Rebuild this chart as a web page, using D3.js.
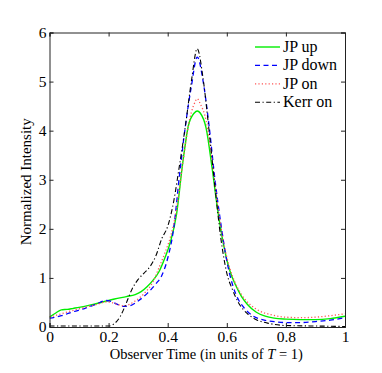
<!DOCTYPE html>
<html>
<head>
<meta charset="utf-8">
<script src="https://cdn.jsdelivr.net/npm/d3@7"></script>
<style>
  body { margin: 0; background: #fff; }
  svg text { font-family: "Liberation Serif", "Times New Roman", Times, "DejaVu Serif", serif; }
</style>
</head>
<body>
<div id="chart"></div>
<script>
// data
var jpUpT = [0, 0.02, 0.04, 0.06, 0.08, 0.10, 0.14, 0.18, 0.22, 0.26, 0.29, 0.31, 0.33, 0.35, 0.37, 0.39, 0.41, 0.43, 0.45, 0.47, 0.49, 0.50, 0.51, 0.53, 0.55, 0.57, 0.59, 0.61, 0.63, 0.65, 0.67, 0.70, 0.73, 0.76, 0.80, 0.85, 0.90, 0.95, 1.0]
var jpUpV = [0.20, 0.28, 0.35, 0.36, 0.38, 0.40, 0.45, 0.51, 0.57, 0.62, 0.66, 0.72, 0.82, 0.95, 1.12, 1.40, 1.75, 2.3, 3.3, 4.1, 4.36, 4.40, 4.36, 4.05, 3.25, 2.35, 1.65, 1.15, 0.85, 0.62, 0.46, 0.30, 0.22, 0.18, 0.16, 0.15, 0.15, 0.17, 0.22]

var jpDownT = [0, 0.04, 0.08, 0.12, 0.16, 0.19, 0.21, 0.23, 0.25, 0.27, 0.30, 0.33, 0.36, 0.38, 0.40, 0.42, 0.44, 0.46, 0.48, 0.50, 0.52, 0.54, 0.56, 0.58, 0.60, 0.62, 0.64, 0.66, 0.69, 0.72, 0.76, 0.80, 0.85, 0.90, 0.95, 1.0]
var jpDownV = [0.18, 0.23, 0.31, 0.38, 0.47, 0.54, 0.52, 0.46, 0.42, 0.43, 0.53, 0.68, 0.88, 1.05, 1.4, 2.0, 3.1, 4.1, 4.9, 5.5, 5.0, 4.1, 3.0, 2.1, 1.35, 0.85, 0.55, 0.38, 0.22, 0.15, 0.11, 0.09, 0.09, 0.11, 0.14, 0.19]

var jpOnT = [0, 0.04, 0.08, 0.12, 0.16, 0.19, 0.21, 0.23, 0.25, 0.27, 0.29, 0.32, 0.35, 0.37, 0.39, 0.41, 0.43, 0.45, 0.47, 0.49, 0.50, 0.51, 0.53, 0.55, 0.57, 0.59, 0.61, 0.63, 0.65, 0.68, 0.71, 0.75, 0.80, 0.85, 0.90, 0.95, 1.0]
var jpOnV = [0.20, 0.27, 0.34, 0.40, 0.46, 0.51, 0.50, 0.46, 0.43, 0.46, 0.53, 0.68, 0.92, 1.2, 1.5, 1.85, 2.4, 3.3, 4.1, 4.55, 4.65, 4.55, 4.2, 3.4, 2.45, 1.7, 1.2, 0.88, 0.66, 0.45, 0.33, 0.25, 0.20, 0.19, 0.20, 0.23, 0.27]

var kerrT = [0, 0.1, 0.2, 0.215, 0.24, 0.26, 0.28, 0.30, 0.32, 0.34, 0.36, 0.38, 0.40, 0.42, 0.44, 0.46, 0.48, 0.50, 0.52, 0.54, 0.56, 0.58, 0.60, 0.62, 0.64, 0.67, 0.70, 0.745, 0.80, 0.9, 1.0]
var kerrV = [0.02, 0.02, 0.02, 0.05, 0.22, 0.49, 0.78, 0.97, 1.1, 1.23, 1.45, 1.8, 2.05, 2.55, 3.3, 4.1, 5.0, 5.67, 5.05, 4.0, 2.85, 1.8, 1.1, 0.75, 0.49, 0.27, 0.15, 0.07, 0.03, 0.02, 0.01]

var xTicks = [0, 0.2, 0.4, 0.6, 0.8, 1]
var yTicks = [0, 1, 2, 3, 4, 5, 6]

var series = [
  {name: "JP up", t: jpUpT, v: jpUpV, color: "#00ee00", dash: null, w: 1.4},
  {name: "JP down", t: jpDownT, v: jpDownV, color: "#0000ff", dash: "5,3.5", w: 1.3},
  {name: "JP on", t: jpOnT, v: jpOnV, color: "#ff5555", dash: "1.2,2.2", w: 1.3},
  {name: "Kerr on", t: kerrT, v: kerrV, color: "#000000", dash: "5,2.5,1.2,2.5", w: 1.1}
]

var W = 382, H = 373
var margin = {top: 32.5, right: 37, bottom: 46, left: 49.5}
var width = W - margin.left - margin.right
var height = H - margin.top - margin.bottom
var serif = "'Liberation Serif', 'Times New Roman', Times, 'DejaVu Serif', serif"

var svg = d3.select("#chart").append("svg")
  .attr("width", W)
  .attr("height", H)

var x = d3.scaleLinear().domain([0, 1]).range([margin.left, margin.left + width])
var y = d3.scaleLinear().domain([0, 6]).range([margin.top + height, margin.top])

var line = d3.line()
  .x(d => x(d[0]))
  .y(d => y(d[1]))
  .curve(d3.curveMonotoneX)

svg.append("clipPath").attr("id", "clip")
  .append("rect")
  .attr("x", margin.left).attr("y", margin.top)
  .attr("width", width).attr("height", height)

var plot = svg.append("g").attr("clip-path", "url(#clip)")

series.forEach(s => {
  var pts = s.t.map((t, i) => [t, s.v[i]])
  plot.append("path")
    .attr("d", line(pts))
    .attr("fill", "none")
    .attr("stroke", s.color)
    .attr("stroke-width", s.w)
    .attr("stroke-dasharray", s.dash)
})

// axes, matlab style ticks inward on all sides
var tickLen = 4
svg.append("g")
  .attr("transform", "translate(0," + (margin.top + height) + ")")
  .call(d3.axisBottom(x).tickValues(xTicks).tickSize(-tickLen).tickPadding(4).tickFormat(d3.format("")))
svg.append("g")
  .attr("transform", "translate(0," + margin.top + ")")
  .call(d3.axisTop(x).tickValues(xTicks).tickSize(-tickLen).tickFormat(""))
svg.append("g")
  .attr("transform", "translate(" + margin.left + ",0)")
  .call(d3.axisLeft(y).tickValues(yTicks).tickSize(-tickLen).tickPadding(3).tickFormat(d3.format("d")))
svg.append("g")
  .attr("transform", "translate(" + (margin.left + width) + ",0)")
  .call(d3.axisRight(y).tickValues(yTicks).tickSize(-tickLen).tickFormat(""))

svg.selectAll("g").attr("font-family", serif)
svg.selectAll(".domain").attr("stroke", "#222").attr("stroke-width", 1)
svg.selectAll(".tick line").attr("stroke", "#222")
svg.selectAll(".tick text")
  .attr("font-family", serif)
  .style("font-size", "15.5px")
  .attr("fill", "#000")

// axis titles
var xt = svg.append("text")
  .attr("x", margin.left + width / 2 + 9)
  .attr("y", 359)
  .attr("text-anchor", "middle")
  .style("font-size", "14.5px")
xt.append("tspan").text("Observer Time (in units of ")
xt.append("tspan").style("font-style", "italic").text("T")
xt.append("tspan").text(" = 1)")

svg.append("text")
  .attr("transform", "translate(31," + (margin.top + height / 2 + 2) + ") rotate(-90)")
  .attr("text-anchor", "middle")
  .style("font-size", "15px")
  .text("Normalized Intensity")

// legend
var lg = svg.append("g")
series.forEach((s, i) => {
  var ly = 47 + i * 18.4
  lg.append("line")
    .attr("x1", 255).attr("x2", 280)
    .attr("y1", ly).attr("y2", ly)
    .attr("stroke", s.color)
    .attr("stroke-width", s.w)
    .attr("stroke-dasharray", s.dash)
  lg.append("text")
    .attr("x", 283)
    .attr("y", ly + 5)
    .style("font-size", "16px")
    .text(s.name)
})
</script>
</body>
</html>
